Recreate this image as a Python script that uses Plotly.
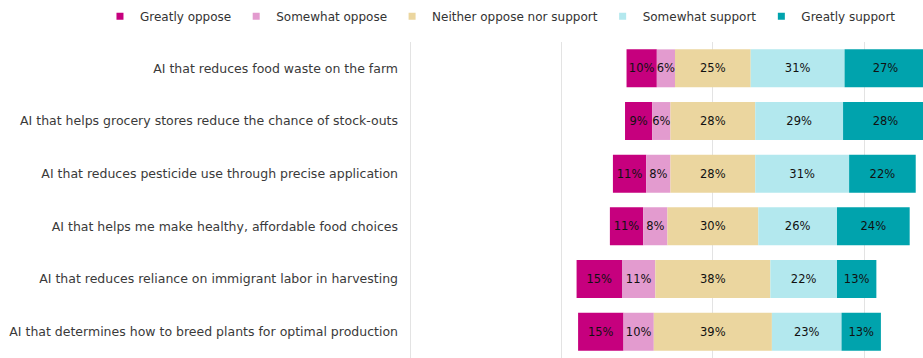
import plotly.graph_objects as go

statements = [
    "AI that reduces food waste on the farm",
    "AI that helps grocery stores reduce the chance of stock-outs",
    "AI that reduces pesticide use through precise application",
    "AI that helps me make healthy, affordable food choices",
    "AI that reduces reliance on immigrant labor in harvesting",
    "AI that determines how to breed plants for optimal production",
]
greatly_oppose = [10, 9, 11, 11, 15, 15]
somewhat_oppose = [6, 6, 8, 8, 11, 10]
neutral = [25, 28, 28, 30, 38, 39]
somewhat_support = [31, 29, 31, 26, 22, 23]
greatly_support = [27, 28, 22, 24, 13, 13]

series = [
    ("Greatly oppose", greatly_oppose, "#C6007E"),
    ("Somewhat oppose", somewhat_oppose, "#E39BCF"),
    ("Neither oppose nor support", neutral, "#EBD69F"),
    ("Somewhat support", somewhat_support, "#B3E8EE"),
    ("Greatly support", greatly_support, "#00A3AD"),
]

FONT = "DejaVu Sans, Liberation Sans, Arial, sans-serif"

# diverging start: centre of the neutral segment sits at zero
starts = [-(a + b + c / 2) for a, b, c in zip(greatly_oppose, somewhat_oppose, neutral)]

fig = go.Figure()
cum = list(starts)
for name, vals, color in series:
    fig.add_trace(go.Bar(
        y=statements, x=vals, base=list(cum), orientation="h",
        marker=dict(color=color, line=dict(width=0)),
        text=[f"{v}%" for v in vals], textposition="inside",
        insidetextanchor="middle", textangle=0,
        textfont=dict(color="#111111", size=11.5, family=FONT),
        showlegend=False, width=0.72, hoverinfo="skip",
    ))
    cum = [c + v for c, v in zip(cum, vals)]

for name, vals, color in series:
    fig.add_trace(go.Scatter(
        x=[None], y=[None], mode="markers", name=name,
        marker=dict(symbol="square", size=7, color=color),
    ))

fig.update_layout(
    width=923, height=358,
    margin=dict(l=407, r=0, t=42, b=0, autoexpand=False),
    paper_bgcolor="white", plot_bgcolor="white",
    barmode="overlay",
    uniformtext=dict(minsize=11.5, mode="show"),
    font=dict(family=FONT, color="#333333", size=12),
    legend=dict(
        orientation="h", xref="paper", yref="paper",
        x=-0.595, xanchor="left", y=1.127, yanchor="top",
        font=dict(size=12, color="#333333", family=FONT),
        itemwidth=30, traceorder="normal", bgcolor="rgba(0,0,0,0)",
    ),
    xaxis=dict(
        range=[-101, 69.4], tickvals=[-100, -50, 0, 50], showticklabels=False,
        showgrid=True, gridcolor="#E3E3E3", gridwidth=1, zeroline=False,
        fixedrange=True,
    ),
    yaxis=dict(
        categoryorder="array", categoryarray=statements,
        range=[5.5, -0.5], showgrid=False, ticks="", ticklabelstandoff=8,
        tickfont=dict(size=12.5, color="#3A3A3A", family=FONT),
    ),
)

fig.write_html("out.html")
